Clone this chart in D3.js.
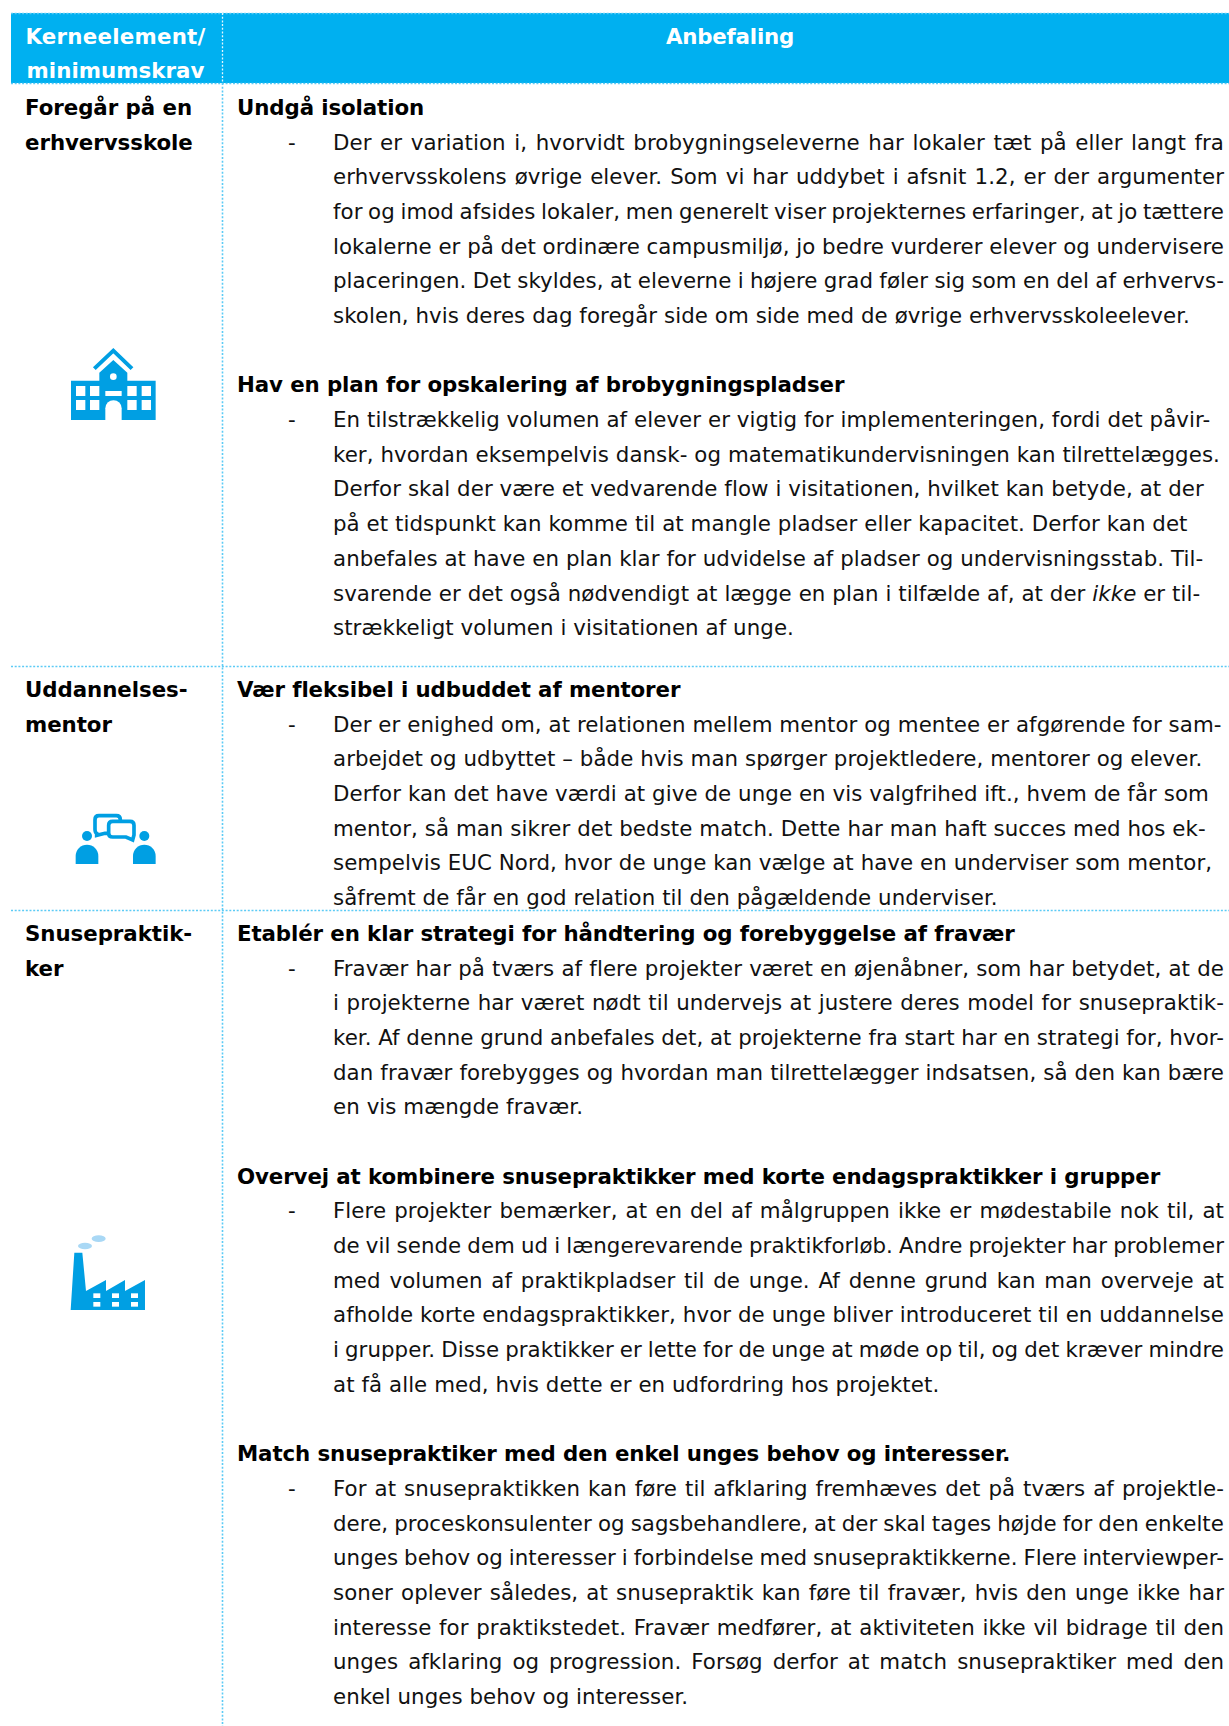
<!DOCTYPE html>
<html>
<head>
<meta charset="utf-8">
<script src="https://cdn.jsdelivr.net/npm/d3@7"></script>
<style>
  html, body { margin: 0; padding: 0; background: #fff; }
  svg { display: block; }
  text { font-family: "DejaVu Sans", Verdana, sans-serif; white-space: pre; }
</style>
</head>
<body>
<svg id="chart" width="1229" height="1726"></svg>
<script>
// ---------------------------------------------------------------------------
// Table content
// ---------------------------------------------------------------------------
const HEADER_LEFT = ["Kerneelement/", "minimumskrav"];
const HEADER_RIGHT = "Anbefaling";

const ROW_LABELS = [
  ["Foregår på en", "erhvervsskole"],
  ["Uddannelses-", "mentor"],
  ["Snusepraktik-", "ker"],
];

// One entry per recommendation: row, first line index in that row, justified
const BLOCK_ROWS = [0, 0, 1, 2, 2, 2];
const BLOCK_START = [0, 8, 0, 0, 7, 15];
const BLOCK_JUSTIFIED = [true, false, false, true, true, true];

const BLOCK_TITLES = [
  "Undgå isolation",
  "Hav en plan for opskalering af brobygningspladser",
  "Vær fleksibel i udbuddet af mentorer",
  "Etablér en klar strategi for håndtering og forebyggelse af fravær",
  "Overvej at kombinere snusepraktikker med korte endagspraktikker i grupper",
  "Match snusepraktiker med den enkel unges behov og interesser.",
];

const BLOCK_LINES = [
  [
    "Der er variation i, hvorvidt brobygningseleverne har lokaler tæt på eller langt fra",
    "erhvervsskolens øvrige elever. Som vi har uddybet i afsnit 1.2, er der argumenter",
    "for og imod afsides lokaler, men generelt viser projekternes erfaringer, at jo tættere",
    "lokalerne er på det ordinære campusmiljø, jo bedre vurderer elever og undervisere",
    "placeringen. Det skyldes, at eleverne i højere grad føler sig som en del af erhvervs-",
    "skolen, hvis deres dag foregår side om side med de øvrige erhvervsskoleelever.",
  ],
  [
    "En tilstrækkelig volumen af elever er vigtig for implementeringen, fordi det påvir-",
    "ker, hvordan eksempelvis dansk- og matematikundervisningen kan tilrettelægges.",
    "Derfor skal der være et vedvarende flow i visitationen, hvilket kan betyde, at der",
    "på et tidspunkt kan komme til at mangle pladser eller kapacitet. Derfor kan det",
    "anbefales at have en plan klar for udvidelse af pladser og undervisningsstab. Til-",
    "svarende er det også nødvendigt at lægge en plan i tilfælde af, at der *ikke* er til-",
    "strækkeligt volumen i visitationen af unge.",
  ],
  [
    "Der er enighed om, at relationen mellem mentor og mentee er afgørende for sam-",
    "arbejdet og udbyttet – både hvis man spørger projektledere, mentorer og elever.",
    "Derfor kan det have værdi at give de unge en vis valgfrihed ift., hvem de får som",
    "mentor, så man sikrer det bedste match. Dette har man haft succes med hos ek-",
    "sempelvis EUC Nord, hvor de unge kan vælge at have en underviser som mentor,",
    "såfremt de får en god relation til den pågældende underviser.",
  ],
  [
    "Fravær har på tværs af flere projekter været en øjenåbner, som har betydet, at de",
    "i projekterne har været nødt til undervejs at justere deres model for snusepraktik-",
    "ker. Af denne grund anbefales det, at projekterne fra start har en strategi for, hvor-",
    "dan fravær forebygges og hvordan man tilrettelægger indsatsen, så den kan bære",
    "en vis mængde fravær.",
  ],
  [
    "Flere projekter bemærker, at en del af målgruppen ikke er mødestabile nok til, at",
    "de vil sende dem ud i længerevarende praktikforløb. Andre projekter har problemer",
    "med volumen af praktikpladser til de unge. Af denne grund kan man overveje at",
    "afholde korte endagspraktikker, hvor de unge bliver introduceret til en uddannelse",
    "i grupper. Disse praktikker er lette for de unge at møde op til, og det kræver mindre",
    "at få alle med, hvis dette er en udfordring hos projektet.",
  ],
  [
    "For at snusepraktikken kan føre til afklaring fremhæves det på tværs af projektle-",
    "dere, proceskonsulenter og sagsbehandlere, at der skal tages højde for den enkelte",
    "unges behov og interesser i forbindelse med snusepraktikkerne. Flere interviewper-",
    "soner oplever således, at snusepraktik kan føre til fravær, hvis den unge ikke har",
    "interesse for praktikstedet. Fravær medfører, at aktiviteten ikke vil bidrage til den",
    "unges afklaring og progression. Forsøg derfor at match snusepraktiker med den",
    "enkel unges behov og interesser.",
  ],
];

// ---------------------------------------------------------------------------
// Layout
// ---------------------------------------------------------------------------
const W = 1229, H = 1726;
const BLUE = "#00b0f0", RULE = "#5ccbf5", ICON_BLUE = "#009fe3", SMOKE = "#a9d8f5";
const FONT_SIZE = 21.33, LINE_H = 34.68;
const GRID_LEFT = 11, COL_X = 222, HEAD_TOP = 13, HEAD_BOTTOM = 83;
const ROW_BORDERS = [666, 910];
const ROW_BASELINES = [115, 697, 941];
const LABEL_X = 25, TITLE_X = 237, DASH_X = 288, TEXT_X = 333, TEXT_RIGHT = 1224;

const lineY = d3.scaleLinear().domain([0, 1]).range([0, LINE_H]);
const svg = d3.select("#chart");

// Header band
svg.append("rect")
  .attr("x", GRID_LEFT).attr("y", HEAD_TOP)
  .attr("width", W - GRID_LEFT).attr("height", HEAD_BOTTOM - HEAD_TOP)
  .attr("fill", BLUE);

// Dotted grid lines
const grid = svg.append("g")
  .attr("stroke", RULE).attr("stroke-width", 1.6)
  .attr("stroke-dasharray", "2 1.7").attr("fill", "none");
[HEAD_TOP, HEAD_BOTTOM, ...ROW_BORDERS].forEach(y => {
  grid.append("line")
    .attr("x1", GRID_LEFT).attr("x2", W)
    .attr("y1", y + 0.5).attr("y2", y + 0.5);
});
grid.append("line")
  .attr("x1", COL_X + 0.5).attr("x2", COL_X + 0.5)
  .attr("y1", HEAD_BOTTOM).attr("y2", H);
// The divider shows as white dots across the header band.
svg.append("line")
  .attr("x1", COL_X + 0.5).attr("x2", COL_X + 0.5)
  .attr("y1", HEAD_TOP).attr("y2", HEAD_BOTTOM)
  .attr("stroke", "#e4f7fe").attr("stroke-width", 1.3).attr("stroke-dasharray", "2 1.7");

// Header text
svg.selectAll(".head-left").data(HEADER_LEFT).join("text")
  .attr("class", "head-left")
  .attr("x", 115.5).attr("y", (d, i) => 43.5 + lineY(i))
  .attr("text-anchor", "middle")
  .attr("font-size", FONT_SIZE).attr("font-weight", 700).attr("fill", "#fff")
  .attr("letter-spacing", (d, i) => i ? 0.05 : 0.25)
  .text(d => d);
svg.append("text")
  .attr("x", 730).attr("y", 43.5)
  .attr("text-anchor", "middle")
  .attr("font-size", FONT_SIZE).attr("font-weight", 700).attr("fill", "#fff")
  .attr("letter-spacing", -0.2)
  .text(HEADER_RIGHT);

// Left column labels
ROW_LABELS.forEach((lines, r) => {
  svg.append("g").selectAll("text").data(lines).join("text")
    .attr("x", LABEL_X).attr("y", (d, i) => ROW_BASELINES[r] + lineY(i))
    .attr("font-size", FONT_SIZE).attr("font-weight", 700).attr("fill", "#000")
    .attr("letter-spacing", -0.05)
    .text(d => d);
});

// Writes a line into a text node; *word* becomes italic.
function fillLine(sel, line) {
  line.split("*").forEach((part, i) => {
    sel.append("tspan").attr("font-style", i % 2 ? "italic" : null).text(part);
  });
}

// Recommendation blocks
BLOCK_TITLES.forEach((title, b) => {
  const base = ROW_BASELINES[BLOCK_ROWS[b]] + lineY(BLOCK_START[b]);
  const g = svg.append("g").attr("font-size", FONT_SIZE).attr("fill", "#111");

  g.append("text")
    .attr("x", TITLE_X).attr("y", base)
    .attr("font-weight", 700).attr("fill", "#000")
    .attr("letter-spacing", -0.1)
    .text(title);

  g.append("text")
    .attr("x", DASH_X).attr("y", base + lineY(1))
    .text("-");

  const lines = BLOCK_LINES[b];
  lines.forEach((line, i) => {
    const t = g.append("text")
      .attr("x", TEXT_X).attr("y", base + lineY(i + 1))
      .attr("letter-spacing", 0.07);
    fillLine(t, line);
    // Justify every line but the last by widening the word gaps.
    if (BLOCK_JUSTIFIED[b] && i < lines.length - 1) {
      const gaps = line.split(" ").length - 1;
      const extra = (TEXT_RIGHT - TEXT_X - t.node().getComputedTextLength()) / gaps;
      t.attr("word-spacing", extra);
    }
  });
});

// ---------------------------------------------------------------------------
// Icons
// ---------------------------------------------------------------------------
function schoolIcon() {
  const g = svg.append("g").attr("transform", "translate(40,330) scale(0.3333)");
  g.append("path").attr("fill", ICON_BLUE)
    .attr("d", "M93 152H178V128L220 90L262 128V152H347V270H93Z");
  g.append("path").attr("fill", "none").attr("stroke", ICON_BLUE).attr("stroke-width", 12)
    .attr("d", "M163 116L220 62L276 116");
  const cut = g.append("g").attr("fill", "#fff");
  [108, 150, 262, 305].forEach(x => {
    [168, 210].forEach(y => {
      cut.append("rect").attr("x", x).attr("y", y).attr("width", 28).attr("height", 30);
    });
  });
  cut.append("rect").attr("x", 196).attr("y", 183).attr("width", 49).attr("height", 15);
  cut.append("circle").attr("cx", 220).attr("cy", 140).attr("r", 10);
  cut.append("path").attr("d", "M196 270V235A24.5 24.5 0 0 1 245 235V270Z");
}

function mentorIcon() {
  const g = svg.append("g").attr("transform", "translate(50,790) scale(0.3333)");
  [111, 283].forEach(cx => {
    g.append("circle").attr("cx", cx).attr("cy", 138).attr("r", 15).attr("fill", ICON_BLUE);
    g.append("path").attr("fill", ICON_BLUE)
      .attr("d", `M${cx - 34} 222V198A34 34 0 0 1 ${cx + 34} 198V222Z`);
  });
  g.append("path").attr("fill", "#fff").attr("stroke", ICON_BLUE).attr("stroke-width", 11)
    .attr("d", "M147 77H199Q211 77 211 89V118Q211 130 199 130H165L140 136V130Q135 128 135 118V89Q135 77 147 77Z");
  g.append("path").attr("fill", "#fff").attr("stroke", ICON_BLUE).attr("stroke-width", 11)
    .attr("d", "M188 94H240Q252 94 252 106V135L248 150L228 141H188Q176 141 176 129V106Q176 94 188 94Z");
}

function factoryIcon() {
  const g = svg.append("g").attr("transform", "translate(50,1210) scale(0.3333)");
  g.append("path").attr("fill", ICON_BLUE)
    .attr("d", "M62 300L73 128H97L108 243L168 210V243L225 210V243L285 210V300Z");
  const cut = g.append("g").attr("fill", "#fff");
  [130, 186, 243].forEach(x => {
    [250, 276].forEach(y => {
      cut.append("rect").attr("x", x).attr("y", y).attr("width", 21).attr("height", 14);
    });
  });
  g.append("ellipse").attr("cx", 105).attr("cy", 108).attr("rx", 21).attr("ry", 10).attr("fill", SMOKE);
  g.append("ellipse").attr("cx", 146).attr("cy", 86).attr("rx", 21).attr("ry", 10).attr("fill", SMOKE);
}

schoolIcon();
mentorIcon();
factoryIcon();
</script>
</body>
</html>
